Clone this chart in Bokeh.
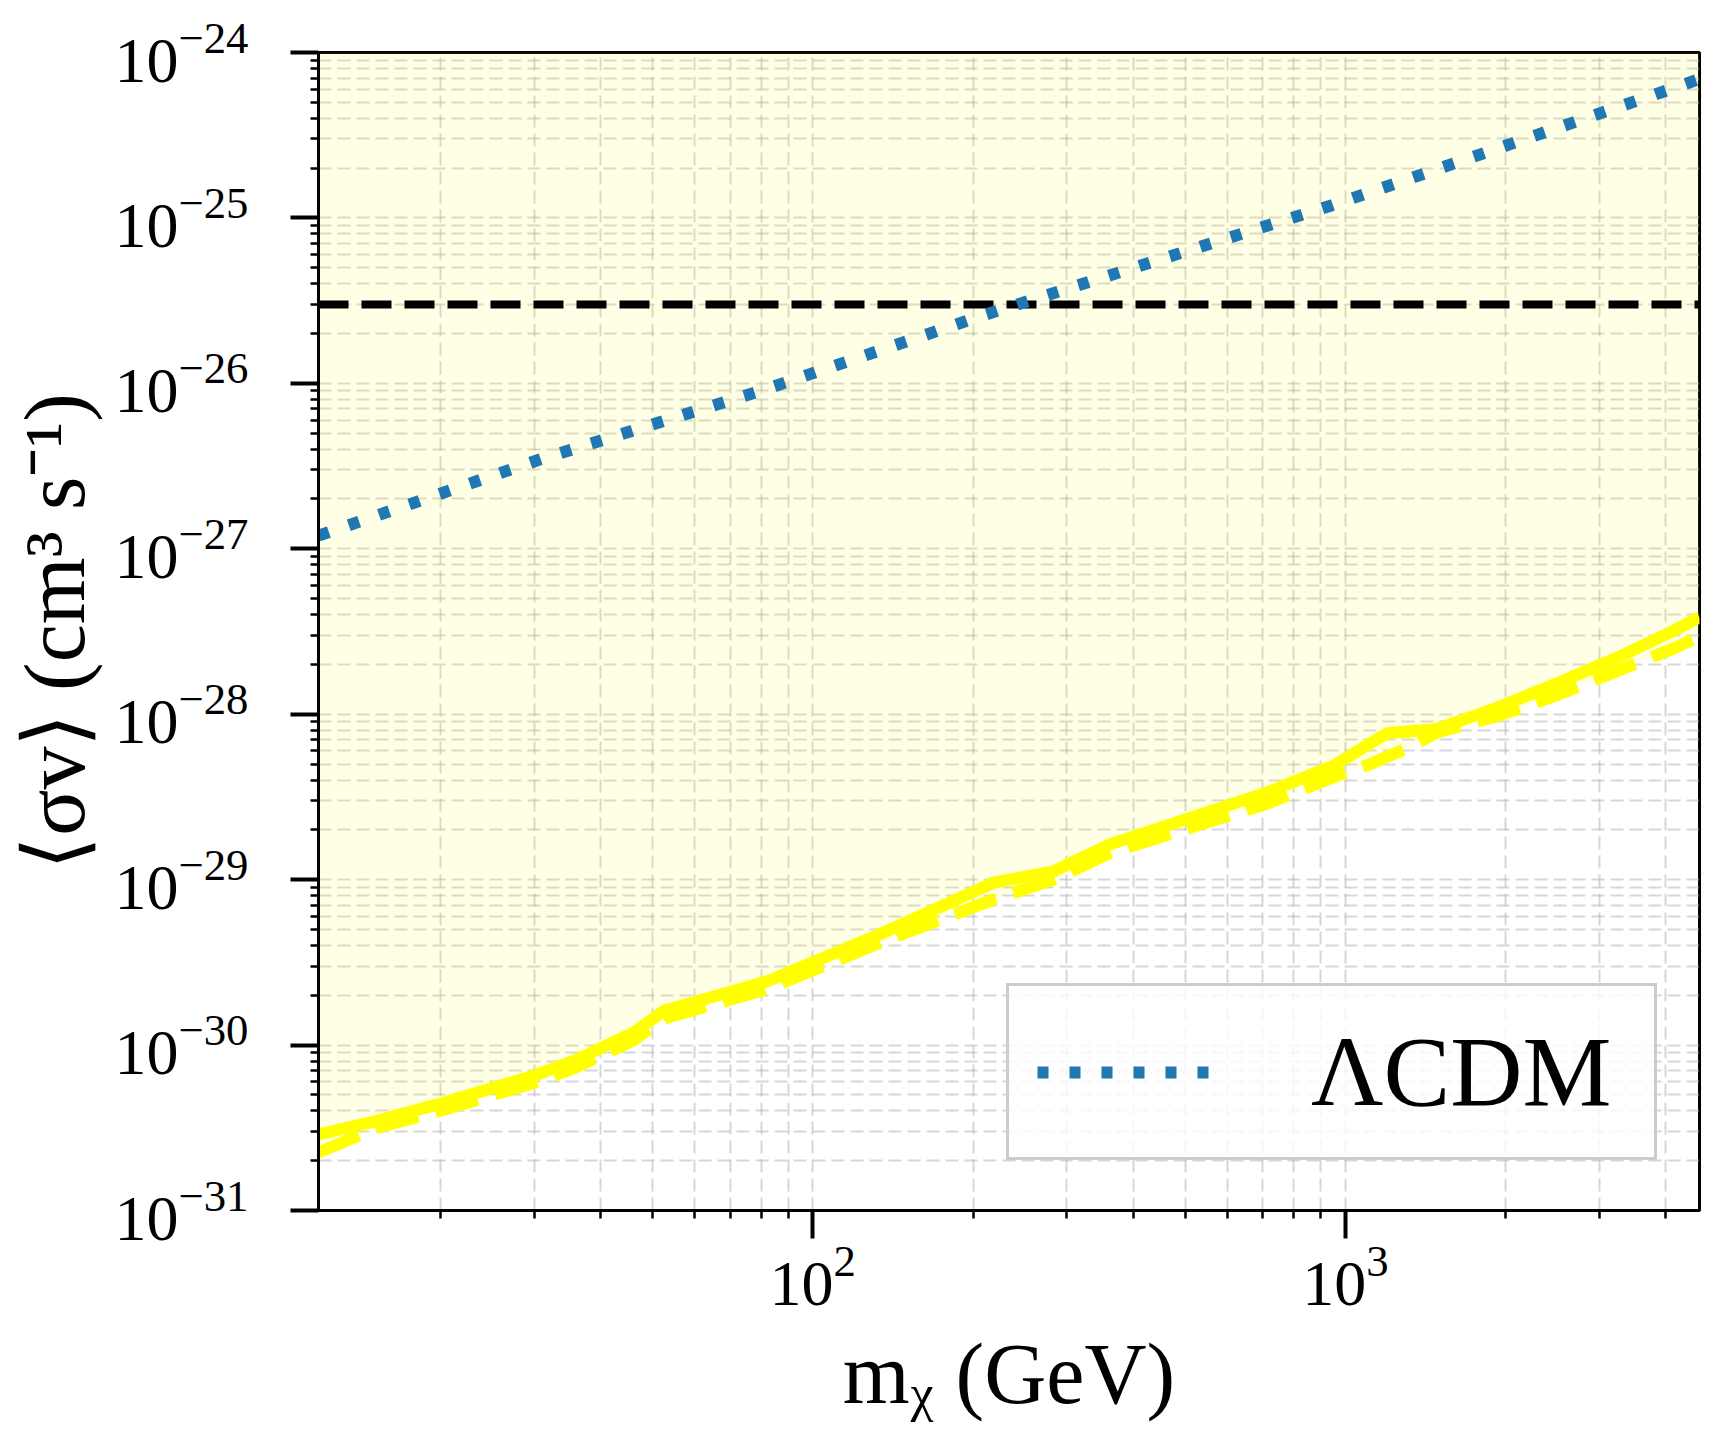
from bokeh.plotting import figure
from bokeh.models import FixedTicker, Legend, LegendItem
from bokeh.embed import file_html
from bokeh.resources import INLINE

# ---------------- data ----------------
mass_min, mass_max = 11.8, 4624.0          # GeV, x-axis limits
sigv_min, sigv_max = 1e-31, 1e-24          # cm^3 s^-1, y-axis limits

relic_sigmav = 3e-26                        # thermal relic cross-section (black dashed)

lcdm_mass = [11.8, 31.0, 80.5, 209.0, 942.0, 4188.0, 4624.0]
lcdm_sigmav = [1.20e-27, 3.50e-27, 9.08e-27, 2.58e-26, 1.19e-25, 6.18e-25, 6.92e-25]

solid_mass = [11.8, 15.2, 20.3, 29.9, 35.6, 46.1, 52.7, 82.4, 134, 219, 283, 362,
              505, 713, 951, 1197, 1486, 1936, 2523, 3236, 4150, 4624]
solid_sigmav = [2.88e-31, 3.48e-31, 4.49e-31, 6.52e-31, 8.02e-31, 1.19e-30, 1.62e-30,
                2.44e-30, 4.69e-30, 9.61e-30, 1.12e-29, 1.64e-29, 2.33e-29, 3.37e-29,
                4.89e-29, 7.67e-29, 8.15e-29, 1.10e-28, 1.56e-28, 2.19e-28, 3.21e-28,
                3.85e-28]

dashed_mass = [11.8, 15.2, 20.3, 29.9, 35.6, 46.1, 52.7, 82.4, 134, 219, 283, 362,
               505, 713, 951, 1117, 1340, 1486, 1936, 2523, 3236, 4150, 4624]
dashed_sigmav = [2.24e-31, 3.16e-31, 4.07e-31, 5.89e-31, 7.24e-31, 1.07e-30, 1.45e-30,
                 2.19e-30, 4.17e-30, 7.60e-30, 1.00e-29, 1.45e-29, 2.04e-29, 2.88e-29,
                 4.17e-29, 5.01e-29, 6.46e-29, 7.76e-29, 9.77e-29, 1.32e-28, 1.82e-28,
                 2.51e-28, 2.95e-28]

major_x = [100, 1000]
minor_x = [20, 30, 40, 50, 60, 70, 80, 90, 200, 300, 400, 500, 600, 700, 800, 900,
           2000, 3000, 4000]
major_y = [1e-31, 1e-30, 1e-29, 1e-28, 1e-27, 1e-26, 1e-25, 1e-24]
minor_y = [k * d for d in major_y[:-1] for k in range(2, 10)]

legend_label = "ΛCDM"
x_label = "mᵪ (GeV)"
y_label = "⟨σv⟩ (cm³ s⁻¹)"

# ---------------- layout ----------------
W, H = 1729, 1441
FL, FR, FT, FB = 318, 1699, 52, 1210   # frame edges (px)
SERIF = "Liberation Serif"

p = figure(width=W, height=H, x_axis_type="log", y_axis_type="log",
           x_range=(mass_min, mass_max), y_range=(sigv_min, sigv_max),
           output_backend="svg", toolbar_location=None,
           min_border_left=FL, min_border_right=W - FR,
           min_border_top=FT, min_border_bottom=H - FB)
p.background_fill_color = "white"
p.border_fill_color = "white"
p.outline_line_color = "black"
p.outline_line_width = 3
p.outline_line_alpha = 1.0

p.xaxis.ticker = FixedTicker(ticks=major_x, minor_ticks=minor_x)
p.yaxis.ticker = FixedTicker(ticks=major_y, minor_ticks=minor_y)

for ax in (p.xaxis, p.yaxis):
    ax.axis_line_width = 3
    ax.major_tick_out = 28
    ax.major_tick_in = 0
    ax.minor_tick_out = 8
    ax.minor_tick_in = 0
    ax.major_tick_line_width = 4
    ax.minor_tick_line_width = 2.5
    ax.major_label_text_font = SERIF
    ax.major_label_text_font_size = "64px"
    ax.major_label_text_color = "black"
    ax.axis_label_text_font = SERIF
    ax.axis_label_text_font_style = "normal"
    ax.axis_label_text_color = "black"
    ax.axis_label_text_font_size = "86px"
p.xaxis.major_label_standoff = 8
p.yaxis.major_label_standoff = 42

p.yaxis.axis_label = y_label
p.yaxis.axis_label_standoff = 8
p.xaxis.axis_label = x_label
p.xaxis.axis_label_standoff = 18

for g in (p.xgrid, p.ygrid):
    g.grid_line_color = "#b0b0b0"
    g.grid_line_alpha = 0.5
    g.grid_line_width = 2
    g.grid_line_dash = "13 6"
    g.minor_grid_line_color = "#b0b0b0"
    g.minor_grid_line_alpha = 0.5
    g.minor_grid_line_width = 2
    g.minor_grid_line_dash = "13 6"

# ---------------- glyphs ----------------
p.varea(x=dashed_mass, y1=dashed_sigmav, y2=[sigv_max] * len(dashed_mass),
        fill_color="yellow", fill_alpha=0.1)
p.line(dashed_mass, dashed_sigmav, line_color="#ffff00", line_width=12, line_dash="44 18")
p.line(solid_mass, solid_sigmav, line_color="#ffff00", line_width=12)
p.line([mass_min, mass_max], [relic_sigmav, relic_sigmav], line_color="black",
       line_width=8, line_dash="30 13")
lcdm = p.line(lcdm_mass, lcdm_sigmav, line_color="#1f77b4", line_width=12, line_dash="11 21")

# ---------------- legend ----------------
legend = Legend(items=[LegendItem(label=legend_label, renderers=[lcdm])],
                location=(688, 50), padding=28, margin=0, spacing=0,
                glyph_width=180, glyph_height=50, label_standoff=94, label_width=315,
                label_text_font=SERIF, label_text_font_size="100px",
                label_text_color="black",
                border_line_color="#cccccc", border_line_width=3, border_line_alpha=1.0,
                background_fill_color="white", background_fill_alpha=0.8)
p.add_layout(legend, "center")

open("out.html", "w").write(file_html(p, INLINE))
